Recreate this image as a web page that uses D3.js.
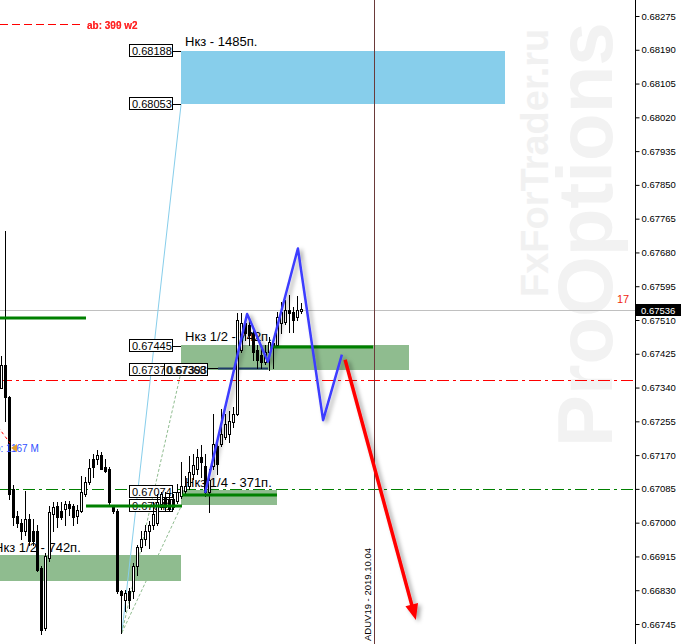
<!DOCTYPE html>
<html><head><meta charset="utf-8">
<script src="https://cdn.jsdelivr.net/npm/d3@7"></script>
<style>html,body{margin:0;padding:0;background:#fff;overflow:hidden}svg{display:block}</style>
</head><body>
<svg id="c" width="683" height="644"></svg>
<script>
// ---- data (prices) ----
const openP  = [0.67338,0.67398,0.67315,0.67085,0.67018,0.66998,0.66980,0.67010,0.66978,0.66978,0.66885,0.66735,0.66910,0.67023,0.67043,0.67030,0.67035,0.67048,0.67043,0.67018,0.67030,0.67073,0.67103,0.67160,0.67160,0.67170,0.67140,0.67135,0.67040,0.67030,0.66828,0.66805,0.66828,0.66828,0.66890,0.66940,0.66960,0.66978,0.66993,0.66998,0.67048,0.67065,0.67060,0.67060,0.67055,0.67068,0.67080,0.67093,0.67123,0.67135,0.67165,0.67143,0.67078,0.67143,0.67193,0.67198,0.67215,0.67223,0.67253,0.67273,0.67435,0.67503,0.67498,0.67478,0.67435,0.67423,0.67405,0.67430,0.67453,0.67448,0.67503,0.67505,0.67535,0.67530,0.67518,0.67533];
const highP  = [0.67420,0.67735,0.67320,0.67095,0.67030,0.67010,0.67080,0.67023,0.67010,0.66993,0.66890,0.66923,0.67043,0.67053,0.67053,0.67053,0.67055,0.67055,0.67048,0.67045,0.67118,0.67115,0.67160,0.67173,0.67183,0.67178,0.67160,0.67140,0.67045,0.67035,0.66830,0.66830,0.66835,0.66898,0.66943,0.66978,0.66993,0.67003,0.67053,0.67073,0.67078,0.67078,0.67073,0.67073,0.67098,0.67153,0.67118,0.67168,0.67173,0.67185,0.67195,0.67173,0.67135,0.67273,0.67205,0.67285,0.67273,0.67280,0.67290,0.67528,0.67528,0.67515,0.67510,0.67490,0.67448,0.67448,0.67448,0.67468,0.67460,0.67530,0.67555,0.67560,0.67573,0.67543,0.67570,0.67553];
const lowP   = [0.67338,0.67255,0.67060,0.66993,0.66990,0.66960,0.66968,0.66943,0.66943,0.66878,0.66720,0.66730,0.66903,0.66978,0.66990,0.67010,0.66993,0.67020,0.66993,0.67000,0.67028,0.67068,0.67098,0.67115,0.67148,0.67135,0.67128,0.67048,0.67025,0.66823,0.66723,0.66778,0.66785,0.66810,0.66868,0.66928,0.66943,0.66935,0.66985,0.66993,0.67035,0.67030,0.67030,0.67035,0.67050,0.67063,0.67075,0.67085,0.67110,0.67123,0.67115,0.67068,0.67028,0.67135,0.67123,0.67193,0.67210,0.67203,0.67240,0.67270,0.67430,0.67460,0.67448,0.67410,0.67388,0.67390,0.67400,0.67385,0.67388,0.67443,0.67478,0.67500,0.67480,0.67480,0.67510,0.67528];
const closeP = [0.67398,0.67315,0.67073,0.67015,0.66998,0.66980,0.67010,0.66953,0.66953,0.66880,0.66730,0.66915,0.67028,0.67040,0.67015,0.67015,0.67048,0.67038,0.67015,0.67033,0.67078,0.67103,0.67138,0.67140,0.67170,0.67135,0.67130,0.67053,0.67030,0.66828,0.66818,0.66823,0.66805,0.66890,0.66940,0.66960,0.66980,0.66993,0.67023,0.67053,0.67073,0.67040,0.67035,0.67040,0.67078,0.67093,0.67093,0.67128,0.67145,0.67165,0.67153,0.67078,0.67108,0.67198,0.67148,0.67223,0.67248,0.67255,0.67273,0.67510,0.67503,0.67478,0.67473,0.67430,0.67410,0.67405,0.67430,0.67455,0.67443,0.67518,0.67530,0.67535,0.67528,0.67510,0.67535,0.67538];

const priceTicks = [0.68275,0.68190,0.68105,0.68020,0.67935,0.67850,0.67765,0.67680,0.67595,0.67510,0.67425,0.67340,0.67255,0.67170,0.67085,0.67000,0.66915,0.66830,0.66745];
const bidPrice = 0.67536;

// zones: [startIndex, endIndex, topPrice, bottomPrice]
const zoneNames  = ["Нкз - 1485п.", "Нкз 1/2 - 742п.", "Нкз 1/4 - 371п.", "Нкз 1/2 - 742п."];
const zoneStart  = [44.875, 44.875, 44.875, -0.375];
const zoneEnd    = [125.875, 101.875, 68.875, 44.875];
const zoneTop    = [0.68188, 0.67448, 0.67083, 0.66918];
const zoneBottom = [0.68053, 0.67385, 0.67045, 0.66853];

// solid green levels
const greenStart = [-0.375, 21.125, 45.125, 67.125];
const greenEnd   = [21.125, 45.125, 68.875, 92.875];
const greenPrice = [0.67515, 0.67043, 0.67070, 0.67443];

// price tag boxes
const tagText  = ["0.68188","0.68053","0.67445","0.67370","0.67074","0.67041"];
const tagPrice = [0.68188, 0.68053, 0.67445, 0.67383, 0.67078, 0.67043];
const dupTagText = ["0.67393","0.67368"];

// fan lines from the low
const fanFrom  = [30.1, 0.66723];
const fanPrice = [0.68053, 0.67380, 0.67041];
const fanEndIdx = 44.9;

// projected zigzag [index, price]
const zigIdx   = [50.9, 61.4, 62.6, 66.6, 74.1, 80.4, 85.1];
const zigPrice = [0.67075, 0.67525, 0.67498, 0.67405, 0.67690, 0.67258, 0.67423];
const arrowIdx   = [85.9, 103.6];
const arrowPrice = [0.67410, 0.66755];

const redLevel = 0.67360, greenDashLevel = 0.67085;
const cursorIdx = 93.125;

// ---- drawing ----
const W = 683, H = 644, axisX = 635;
const FONT = "Liberation Sans, Arial, sans-serif";
const svg = d3.select("#c");
const y = d3.scaleLinear().domain([0.66745, 0.68275]).range([624, 16]);
const x = d3.scaleLinear().domain([0, 75]).range([1.5, 301.5]);
const py = p => Math.round(y(p)) + 0.5;

const defs = svg.append("defs");
const f = defs.append("filter").attr("id","sh").attr("x","-30%").attr("y","-30%").attr("width","160%").attr("height","160%");
f.append("feDropShadow").attr("dx",3).attr("dy",2).attr("stdDeviation",2.2).attr("flood-color","#000").attr("flood-opacity",0.35);
defs.append("clipPath").attr("id","plot").append("rect").attr("x",0).attr("y",0).attr("width",axisX).attr("height",H);

const g = svg.append("g").attr("clip-path","url(#plot)");

// watermark
g.append("text").attr("transform","translate(548,297) rotate(-90)")
  .attr("font-family",FONT).attr("font-weight","bold").attr("font-size",38)
  .attr("fill","#f1f1f1").text("FxForTrader.ru");
g.append("text").attr("transform","translate(612,447) rotate(-90)")
  .attr("font-family",FONT).attr("font-weight","bold").attr("font-size",78)
  .attr("fill","#f2f2f2").text("ProOptions");

// zones
const zoneFill = ["#87ceeb","#8fbc8f","#8fbc8f","#8fbc8f"];
zoneNames.forEach((n,i)=>{
  const x0 = Math.round(x(zoneStart[i])), x1 = Math.round(x(zoneEnd[i]));
  const y0 = Math.round(y(zoneTop[i])), y1 = Math.round(y(zoneBottom[i]));
  g.append("rect").attr("x",x0).attr("y",y0).attr("width",x1-x0).attr("height",y1-y0).attr("fill",zoneFill[i]);
});

// bid line
g.append("line").attr("x1",0).attr("x2",axisX).attr("y1",py(bidPrice)).attr("y2",py(bidPrice)).attr("stroke","#c0c0c0");

// dash-dot levels
g.append("line").attr("x1",0).attr("x2",axisX).attr("y1",py(redLevel)).attr("y2",py(redLevel))
  .attr("stroke","#ff0000").attr("stroke-dasharray","12,4,3,4");
g.append("line").attr("x1",0).attr("x2",axisX).attr("y1",py(greenDashLevel)).attr("y2",py(greenDashLevel))
  .attr("stroke","#008000").attr("stroke-dasharray","12,4,3,4");

// top red dashed line + label
g.append("line").attr("x1",0).attr("x2",80).attr("y1",24.5).attr("y2",24.5).attr("stroke","#ff0000").attr("stroke-dasharray","8,4");
["ab: 399 w2","ab: 300 w2"].forEach(t=>g.append("text").attr("x",87).attr("y",29).attr("font-family",FONT)
  .attr("font-weight","bold").attr("font-size",10).attr("fill","#ff2020").attr("opacity",0.85).text(t));

// zone labels (behind candles)
const labPos = [[185,46],[185,341],[185,487],[-6,552]];
zoneNames.forEach((n,i)=>{
  g.append("text").attr("x",labPos[i][0]).attr("y",labPos[i][1]).attr("font-family",FONT)
   .attr("font-size",13).attr("fill","#000").text(n);
});

// fan lines
fanPrice.forEach((p,i)=>{
  g.append("line").attr("x1",x(fanFrom[0])).attr("y1",y(fanFrom[1])).attr("x2",x(fanEndIdx)).attr("y2",y(p))
   .attr("stroke", i===0 ? "#87ceeb" : "#8fbc8f").attr("stroke-width",1)
   .attr("stroke-dasharray", i===0 ? null : "3,2");
});

// price tag boxes
function tag(x0, p, t){
  const yc = Math.round(y(p));
  g.append("rect").attr("x",x0+0.5).attr("y",yc-6.5).attr("width",43).attr("height",12).attr("fill","#fff").attr("stroke","#000");
  g.append("text").attr("x",x0+3).attr("y",yc+4).attr("font-family",FONT).attr("font-size",11).attr("fill","#000").text(t);
  return yc;
}
tagText.forEach((t,i)=>{
  const yc = tag(129, tagPrice[i], t);
  g.append("line").attr("x1",172.5).attr("x2",181).attr("y1",yc+0.5).attr("y2",yc+0.5).attr("stroke","#000");
});
// overlapping duplicate tags (garbled in the original)
tag(164, tagPrice[3], dupTagText[0]);
g.append("text").attr("x",166).attr("y",Math.round(y(tagPrice[3]))+4).attr("font-family",FONT).attr("font-size",11).attr("fill","#000").text(dupTagText[1]);
g.append("line").attr("x1",208).attr("x2",218).attr("y1",py(0.67388)).attr("y2",py(0.67388)).attr("stroke","#000");
g.append("line").attr("x1",x(54.125)).attr("x2",x(66.625)).attr("y1",py(0.67388)).attr("y2",py(0.67388)).attr("stroke","#1f3a68").attr("stroke-width",2);

// candles
const cg = g.append("g");
openP.forEach((o,i)=>{
  const c = closeP[i], cx = x(i);
  cg.append("line").attr("x1",cx).attr("x2",cx).attr("y1",Math.round(y(highP[i]))).attr("y2",Math.round(y(lowP[i]))+1).attr("stroke","#000");
  const top = Math.round(y(Math.max(o,c))), bot = Math.round(y(Math.min(o,c)));
  const h = Math.max(1, bot-top);
  if (c >= o) {
    cg.append("rect").attr("x",cx-1).attr("y",top+0.5).attr("width",2).attr("height",h).attr("fill","#fff").attr("stroke","#000");
  } else {
    cg.append("rect").attr("x",cx-1.5).attr("y",top).attr("width",3).attr("height",h+1).attr("fill","#000");
  }
});

// solid green levels
greenPrice.forEach((p,i)=>{
  g.append("line").attr("x1",x(greenStart[i])).attr("x2",x(greenEnd[i])).attr("y1",Math.round(y(p))).attr("y2",Math.round(y(p)))
   .attr("stroke","#008000").attr("stroke-width",3);
});

// left small markers
g.append("line").attr("x1",-2).attr("y1",427).attr("x2",10).attr("y2",443).attr("stroke","#ff0000").attr("stroke-dasharray","3,3");
g.append("text").attr("x",-5).attr("y",452).attr("font-family",FONT).attr("font-size",10).attr("fill","#3050ff").text("b: 1167 M");
g.append("path").attr("d","M11,448 L17,444 L17,452 Z").attr("fill","#e0a030");

// cursor vertical line and label
const cx = Math.round(x(cursorIdx)) + 0.5;
g.append("line").attr("x1",cx).attr("x2",cx).attr("y1",0).attr("y2",H).attr("stroke","#6a3a3a").attr("stroke-width",1);
g.append("text").attr("transform",`translate(${cx-4},641) rotate(-90)`).attr("font-family",FONT)
  .attr("font-size",9.5).attr("fill","#000").text("ADUV19 - 2019.10.04");

// zigzag projection
const zig = d3.line().x(d=>x(d[0])).y(d=>y(d[1]));
g.append("path").datum(zigIdx.map((v,i)=>[v,zigPrice[i]])).attr("d",zig).attr("fill","none")
  .attr("stroke","#3c3cff").attr("stroke-width",2.5).attr("stroke-linejoin","round").attr("filter","url(#sh)");

// red arrow
const ax0 = x(arrowIdx[0]), ay0 = y(arrowPrice[0]), ax1 = x(arrowIdx[1]), ay1 = y(arrowPrice[1]);
const dx = ax1-ax0, dy = ay1-ay0, L = Math.hypot(dx,dy), ux = dx/L, uy = dy/L;
const hl = 16, hw = 6.5;
const bx = ax1 - ux*hl, by = ay1 - uy*hl;
const ag = g.append("g").attr("filter","url(#sh)");
ag.append("line").attr("x1",ax0).attr("y1",ay0).attr("x2",bx+ux*2).attr("y2",by+uy*2).attr("stroke","#ff0000").attr("stroke-width",3.5);
ag.append("path").attr("d",`M${ax1},${ay1} L${bx - uy*hw},${by + ux*hw} L${bx + uy*hw},${by - ux*hw} Z`).attr("fill","#ff0000");

// "17"
g.append("text").attr("x",617).attr("y",303).attr("font-family",FONT).attr("font-size",11).attr("fill","#f02810").text("17");

// right axis
svg.append("line").attr("x1",axisX+0.5).attr("x2",axisX+0.5).attr("y1",0).attr("y2",H).attr("stroke","#000");
const axg = svg.append("g").attr("transform",`translate(${axisX+0.5},0)`)
  .call(d3.axisRight(y).tickValues(priceTicks).tickFormat(d3.format(".5f")).tickSize(4).tickPadding(2));
axg.select(".domain").remove();
axg.selectAll("text").attr("font-family",FONT).attr("font-size",9.5).attr("fill","#000");
axg.selectAll("line").attr("stroke","#000");

// bid tag
const by0 = Math.round(y(bidPrice));
svg.append("rect").attr("x",axisX+1).attr("y",by0-6).attr("width",45).attr("height",12).attr("fill","#000");
svg.append("text").attr("x",axisX+6).attr("y",by0+3.5).attr("font-family",FONT).attr("font-size",9.5).attr("fill","#fff").text(d3.format(".5f")(bidPrice));
</script>
</body></html>
